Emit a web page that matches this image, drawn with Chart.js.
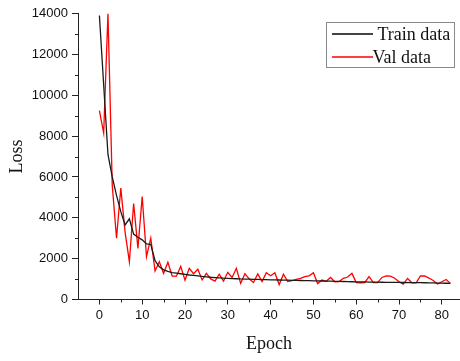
<!DOCTYPE html>
<html>
<head>
<meta charset="utf-8">
<script src="https://cdn.jsdelivr.net/npm/chart.js@4/dist/chart.umd.min.js"></script>
<style>
  html, body { margin: 0; padding: 0; background: #fff; }
  #chart { display: block; }
</style>
</head>
<body>
<canvas id="chart" width="460" height="361"></canvas>
<script>
// loss per epoch, epochs 0..82
const trainLoss = [
  13900, 10500, 7100, 6000, 5100, 4300, 3650, 3950, 3200, 3050,
  2920, 2720, 2700, 1900, 1600, 1450, 1380, 1320, 1290, 1260,
  1230, 1200, 1180, 1160, 1130, 1110, 1090, 1075, 1060, 1045,
  1035, 1025, 1015, 1005, 1000, 995, 990, 985, 975, 970,
  965, 960, 955, 950, 945, 940, 935, 930, 925, 920,
  915, 910, 905, 900, 895, 890, 885, 880, 875, 870,
  865, 860, 858, 855, 850, 848, 845, 842, 840, 838,
  835, 832, 830, 828, 825, 822, 820, 815, 810, 805,
  800, 795, 790
]
const valLoss = [
  9250, 8150, 14000, 5600, 3000, 5450, 3300, 1850, 4700, 2500,
  5040, 2100, 3000, 1400, 1850, 1280, 1820, 1140, 1140, 1620,
  950, 1530, 1260, 1480, 960, 1280, 1010, 900, 1240, 900,
  1330, 1080, 1530, 790, 1260, 1010, 830, 1250, 880, 1310,
  1160, 1310, 730, 1240, 880, 930, 990, 1030, 1120, 1160,
  1310, 780, 950, 890, 1080, 870, 880, 1040, 1100, 1280,
  830, 820, 830, 1120, 830, 830, 1080, 1150, 1140, 1040,
  870, 750, 1030, 820, 820, 1150, 1150, 1050, 930, 760,
  870, 980, 790
]
const seriesNames = ['Train data', 'Val data']
const seriesColors = ['#1a1a1a', '#ff0000']

const xMajorTicks = [0, 10, 20, 30, 40, 50, 60, 70, 80]
const xMinorTicks = [5, 15, 25, 35, 45, 55, 65, 75]
const yMajorTicks = [0, 2000, 4000, 6000, 8000, 10000, 12000, 14000]
const yMinorTicks = [1000, 3000, 5000, 7000, 9000, 11000, 13000]

const axisColor = '#222'
const serif = 'Liberation Serif, Times New Roman, serif'
const sans = 'Liberation Sans, Arial, sans-serif'

const toPoints = values => values.map((v, i) => ({ x: i, y: v }))

// short outward ticks between the labelled ones
const minorTicks = {
  id: 'minorTicks',
  afterDraw(chart) {
    const { ctx, chartArea, scales } = chart
    ctx.save()
    ctx.strokeStyle = axisColor
    ctx.lineWidth = 1
    ctx.beginPath()
    xMinorTicks.forEach(v => {
      const px = Math.round(scales.x.getPixelForValue(v)) + 0.5
      ctx.moveTo(px, chartArea.bottom)
      ctx.lineTo(px, chartArea.bottom + 3)
    })
    yMinorTicks.forEach(v => {
      const py = Math.round(scales.y.getPixelForValue(v)) + 0.5
      ctx.moveTo(chartArea.left, py)
      ctx.lineTo(chartArea.left - 3, py)
    })
    ctx.stroke()
    ctx.restore()
  }
}

// framed legend in the upper right corner
const boxedLegend = {
  id: 'boxedLegend',
  afterDraw(chart) {
    const ctx = chart.ctx
    const box = { left: 326.5, top: 22.5, width: 128, height: 45 }
    ctx.save()
    ctx.fillStyle = '#fff'
    ctx.fillRect(box.left, box.top, box.width, box.height)
    ctx.strokeStyle = '#8a8a8a'
    ctx.lineWidth = 1
    ctx.strokeRect(box.left, box.top, box.width, box.height)

    const rows = [
      { y: 34, thickness: 2, textX: 377.5, color: '#444' },
      { y: 57, thickness: 1.5, textX: 372.5, color: seriesColors[1] }
    ]
    ctx.font = '18px ' + serif
    ctx.textBaseline = 'middle'
    ctx.textAlign = 'left'
    seriesNames.forEach((name, i) => {
      const row = rows[i]
      ctx.fillStyle = row.color
      ctx.fillRect(332, row.y - row.thickness / 2, 41, row.thickness)
      ctx.fillStyle = '#111'
      ctx.fillText(name, row.textX, row.y + 1.5)
    })
    ctx.restore()
  }
}

new Chart(document.getElementById('chart'), {
  type: 'line',
  data: {
    datasets: [
      {
        label: seriesNames[0],
        data: toPoints(trainLoss),
        borderColor: seriesColors[0],
        borderWidth: 1.3,
        pointRadius: 0,
        tension: 0
      },
      {
        label: seriesNames[1],
        data: toPoints(valLoss),
        borderColor: seriesColors[1],
        borderWidth: 1.3,
        pointRadius: 0,
        tension: 0
      }
    ]
  },
  options: {
    responsive: false,
    devicePixelRatio: 1,
    animation: false,
    layout: { padding: { top: 13.5, right: 0, bottom: 0, left: 0 } },
    plugins: {
      legend: { display: false },
      tooltip: { enabled: false }
    },
    scales: {
      x: {
        type: 'linear',
        min: -5,
        max: 84.25,
        afterBuildTicks: scale => { scale.ticks = xMajorTicks.map(v => ({ value: v })) },
        afterFit: scale => { scale.height = 61.5 },
        grid: { drawOnChartArea: false, tickLength: 5, tickColor: axisColor },
        border: { color: axisColor, width: 1 },
        ticks: { color: '#111', font: { family: sans, size: 13 }, padding: 3, maxRotation: 0, callback: v => String(v) },
        title: {
          display: true,
          text: 'Epoch',
          color: '#111',
          font: { family: serif, size: 18 },
          padding: { top: 0, bottom: 6 }
        }
      },
      y: {
        min: 0,
        max: 14000,
        afterBuildTicks: scale => { scale.ticks = yMajorTicks.map(v => ({ value: v })) },
        afterFit: scale => { scale.width = 78 },
        grid: { drawOnChartArea: false, tickLength: 6, tickColor: axisColor },
        border: { color: axisColor, width: 1 },
        ticks: { color: '#111', font: { family: sans, size: 13 }, padding: 4, callback: v => String(v) },
        title: {
          display: true,
          text: 'Loss',
          color: '#111',
          font: { family: serif, size: 18 },
          padding: { top: 6, bottom: 0 }
        }
      }
    }
  },
  plugins: [minorTicks, boxedLegend]
})
</script>
</body>
</html>
